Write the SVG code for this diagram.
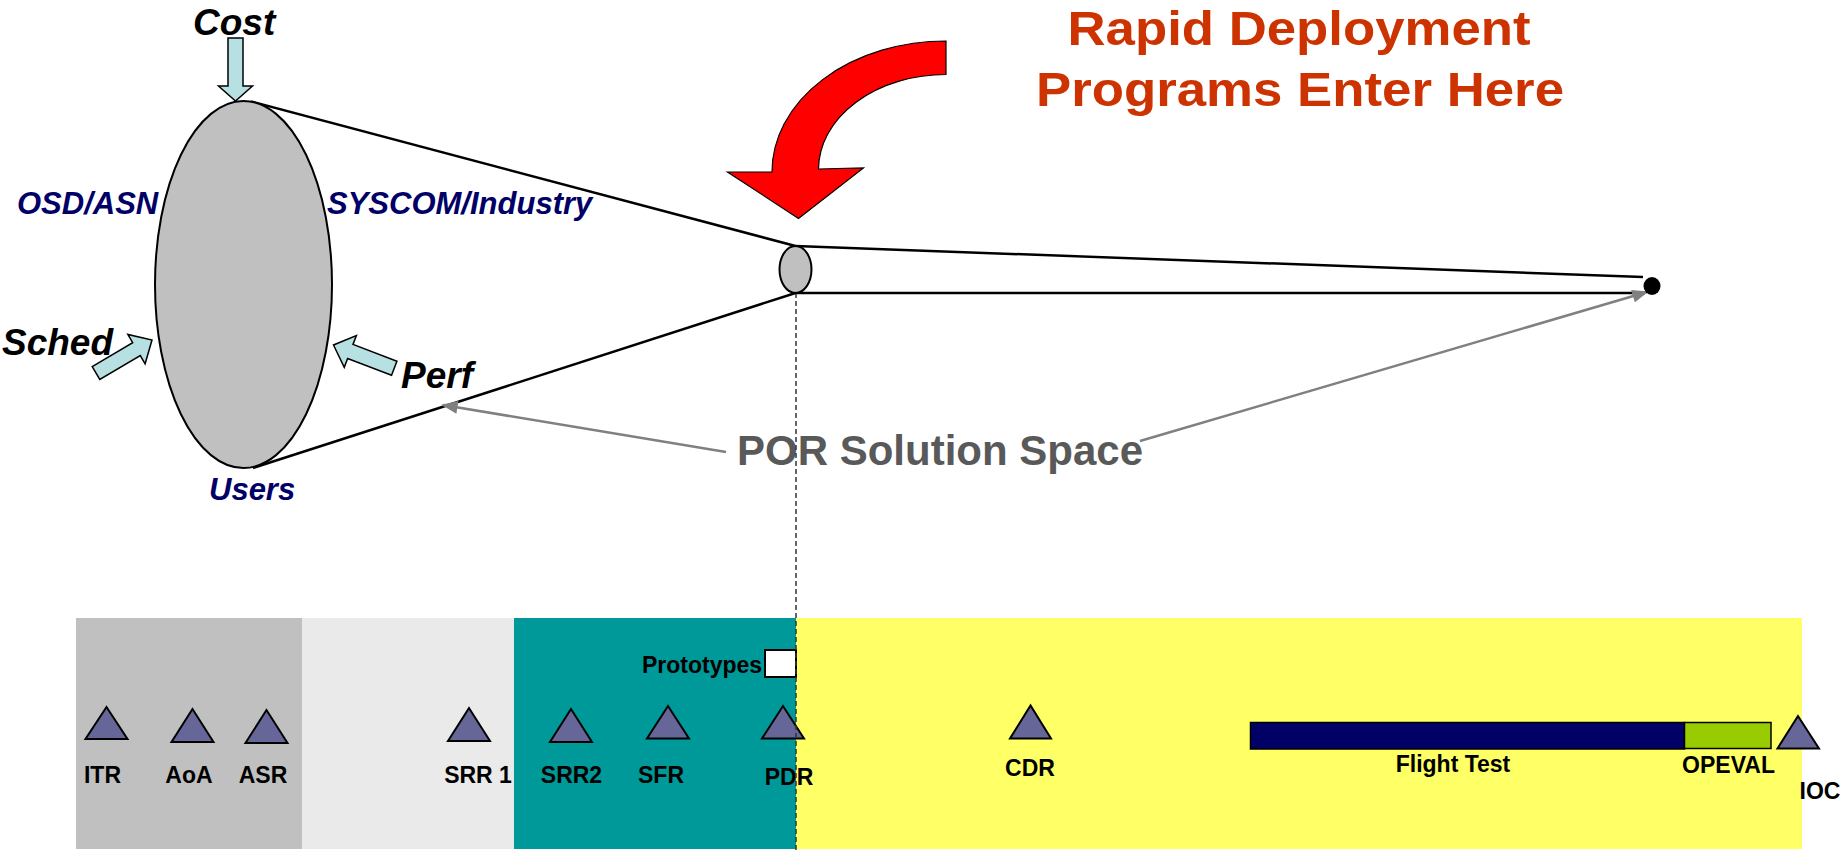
<svg xmlns="http://www.w3.org/2000/svg" width="1845" height="850" viewBox="0 0 1845 850">
<defs>
<style>
.lbl{font-family:"Liberation Sans",Arial,sans-serif;font-weight:bold;font-size:23px;fill:#000;text-anchor:middle}
.blk{font-family:"Liberation Sans",Arial,sans-serif;font-weight:bold;font-style:italic;font-size:37px;fill:#000}
.blu{font-family:"Liberation Sans",Arial,sans-serif;font-weight:bold;font-style:italic;font-size:31px;fill:#000066}
.red{font-family:"Liberation Sans",Arial,sans-serif;font-weight:bold;font-size:49px;fill:#CC3300;text-anchor:middle}
.por{font-family:"Liberation Sans",Arial,sans-serif;font-weight:bold;font-size:42px;fill:#595959}
.tri{fill:#666699;stroke:#000;stroke-width:2}
.blarrow{fill:#B7E0E3;stroke:#000;stroke-width:1.5}
.cone{stroke:#000;stroke-width:2.5;fill:none}
.gray{stroke:#808080;stroke-width:2.5;fill:none;marker-end:url(#gh)}
</style>
<marker id="gh" viewBox="0 0 10 8" refX="9" refY="4" markerWidth="17" markerHeight="13" markerUnits="userSpaceOnUse" orient="auto">
<path d="M0,0 L10,4 L0,8 Z" fill="#808080"/>
</marker>
</defs>

<g id="phases">
<rect x="76" y="618" width="226" height="231" fill="#C0C0C0"/>
<rect x="302" y="618" width="212" height="231" fill="#EAEAEA"/>
<rect x="514" y="618" width="282" height="231" fill="#009999"/>
<rect x="796" y="618" width="1006" height="231" fill="#FFFF66"/>
</g>

<g id="prototypes">
<rect x="765" y="650" width="31" height="27" fill="#fff" stroke="#000" stroke-width="2"/>
<text class="lbl" x="702" y="673">Prototypes</text>
</g>

<g id="ms-itr"><polygon class="tri" points="106.5,707 85.5,739 127.5,739"/><text class="lbl" x="102.5" y="783">ITR</text></g>
<g id="ms-aoa"><polygon class="tri" points="192.5,709 171.5,742 213.5,742"/><text class="lbl" x="189" y="783">AoA</text></g>
<g id="ms-asr"><polygon class="tri" points="266.5,710 245.5,743 287.5,743"/><text class="lbl" x="263" y="783">ASR</text></g>
<g id="ms-srr1"><polygon class="tri" points="469,708 448,741 490,741"/><text class="lbl" x="478" y="783">SRR 1</text></g>
<g id="ms-srr2"><polygon class="tri" points="571,709 550,742 592,742"/><text class="lbl" x="571.5" y="783">SRR2</text></g>
<g id="ms-sfr"><polygon class="tri" points="668,706 647,738.5 689,738.5"/><text class="lbl" x="661" y="783">SFR</text></g>
<g id="ms-pdr"><polygon class="tri" points="783,706 762,738.5 804,738.5"/><text class="lbl" x="789" y="785">PDR</text></g>
<g id="ms-cdr"><polygon class="tri" points="1030.5,705.5 1010,738.5 1051,738.5"/><text class="lbl" x="1030" y="776">CDR</text></g>

<g id="flight-test">
<rect x="1250.5" y="722.5" width="434" height="26.5" fill="#000066" stroke="#000" stroke-width="1.5"/>
<text class="lbl" x="1453" y="772">Flight Test</text>
</g>
<g id="opeval">
<rect x="1684.5" y="722.5" width="86.5" height="26" fill="#99CC00" stroke="#000" stroke-width="1.5"/>
<text class="lbl" x="1728.5" y="773">OPEVAL</text>
</g>
<g id="ms-ioc"><polygon class="tri" points="1798,716 1777.5,748.5 1819,748.5"/><text class="lbl" x="1820" y="799">IOC</text></g>

<g id="title">
<text class="red" x="1299" y="44.5" textLength="463" lengthAdjust="spacingAndGlyphs">Rapid Deployment</text>
<text class="red" x="1300" y="106" textLength="528" lengthAdjust="spacingAndGlyphs">Programs Enter Here</text>
</g>

<g id="red-arrow">
<path d="M946,41 A174,131 0 0 0 772,172 L727.5,172 L798.5,218.5 L863.5,168 L818.5,169 A127.5,95 0 0 1 946,74.5 Z" fill="#FF0000" stroke="#000" stroke-width="1.2"/>
</g>

<g id="por-label">
<text class="por" x="737" y="465">POR Solution Space</text>
</g>

<g id="connectors">
<line class="cone" x1="251" y1="101.5" x2="795.5" y2="246"/>
<line class="cone" x1="253" y1="468" x2="795.5" y2="293"/>
<line class="cone" x1="795.5" y1="246" x2="1643" y2="277"/>
<line class="cone" x1="795.5" y1="293" x2="1645" y2="293"/>
<line x1="796" y1="293" x2="796" y2="850" stroke="#333" stroke-width="1.5" stroke-dasharray="5,3"/>
<line class="gray" x1="726" y1="452" x2="443" y2="405"/>
<line class="gray" x1="1140" y1="441" x2="1647" y2="292"/>
</g>

<g id="budget">
<ellipse cx="243.5" cy="284.5" rx="88.5" ry="183.5" fill="#C0C0C0" stroke="#000" stroke-width="2"/>
</g>
<g id="entry-point">
<ellipse cx="795.5" cy="269.5" rx="16" ry="23.5" fill="#C0C0C0" stroke="#000" stroke-width="2"/>
</g>
<g id="end-point">
<ellipse cx="1652" cy="286" rx="8.5" ry="9" fill="#000"/>
</g>

<g id="cost">
<text class="blk" x="193" y="35">Cost</text>
<path class="blarrow" d="M228,38 L243,38 L243,86 L252.5,86 L235.5,101 L218.5,86 L228,86 Z"/>
</g>
<g id="sched">
<text class="blk" x="2" y="355">Sched</text>
<polygon class="blarrow" points="0,-7.5 47,-7.5 47,-17 65,0 47,17 47,7.5 0,7.5" transform="translate(152,340) rotate(-30.5) translate(-65,0)"/>
</g>
<g id="perf">
<text class="blk" x="401" y="388">Perf</text>
<polygon class="blarrow" points="0,-7.5 47,-7.5 47,-17 65,0 47,17 47,7.5 0,7.5" transform="translate(333.5,345) rotate(200.9) translate(-65,0)"/>
</g>
<g id="osd"><text class="blu" x="17" y="214">OSD/ASN</text></g>
<g id="syscom"><text class="blu" x="327" y="214">SYSCOM/Industry</text></g>
<g id="users"><text class="blu" x="209" y="500">Users</text></g>
</svg>
